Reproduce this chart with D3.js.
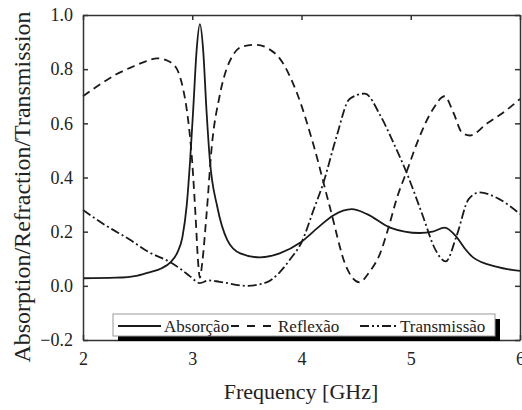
<!DOCTYPE html>
<html>
<head>
<meta charset="utf-8">
<script src="https://cdn.jsdelivr.net/npm/d3@7"></script>
<style>
  body { margin: 0; background: #fff; }
</style>
</head>
<body>
<script>
const absFreq = [2.0, 2.3, 2.5, 2.61, 2.72, 2.8, 2.86, 2.91, 2.95, 2.98, 3.01, 3.04, 3.07, 3.10, 3.13, 3.16, 3.23, 3.32, 3.44, 3.62, 3.80, 3.99, 4.15, 4.29, 4.46, 4.6, 4.81, 5.08, 5.2, 5.31, 5.42, 5.5, 5.57, 5.79, 6.0];
const absValues = [0.028, 0.03, 0.038, 0.05, 0.065, 0.087, 0.12, 0.18, 0.30, 0.46, 0.66, 0.87, 0.966, 0.87, 0.65, 0.47, 0.29, 0.17, 0.12, 0.105, 0.12, 0.16, 0.215, 0.26, 0.283, 0.265, 0.215, 0.195, 0.2, 0.215, 0.18, 0.135, 0.105, 0.07, 0.055];

const refFreq = [2.0, 2.16, 2.3, 2.46, 2.58, 2.68, 2.78, 2.86, 2.92, 2.95, 3.0, 3.03, 3.055, 3.07, 3.09, 3.13, 3.18, 3.25, 3.37, 3.47, 3.59, 3.7, 3.80, 3.96, 4.11, 4.26, 4.41, 4.53, 4.62, 4.72, 4.8, 4.87, 4.97, 5.06, 5.2, 5.31, 5.39, 5.47, 5.54, 5.7, 5.88, 6.0];
const refValues = [0.70, 0.745, 0.78, 0.81, 0.83, 0.84, 0.83, 0.80, 0.72, 0.65, 0.455, 0.26, 0.08, 0.03, 0.08, 0.26, 0.52, 0.70, 0.85, 0.885, 0.89, 0.875, 0.84, 0.71, 0.52, 0.29, 0.07, 0.013, 0.05, 0.12, 0.22, 0.32, 0.43, 0.53, 0.65, 0.70, 0.64, 0.565, 0.555, 0.60, 0.65, 0.69];

const traFreq = [2.0, 2.2, 2.43, 2.6, 2.8, 2.9, 2.98, 3.07, 3.15, 3.25, 3.5, 3.68, 3.80, 3.9, 4.0, 4.11, 4.2, 4.32, 4.44, 4.58, 4.72, 4.84, 4.97, 5.1, 5.23, 5.32, 5.42, 5.53, 5.63, 5.81, 6.0];
const traValues = [0.28, 0.225, 0.17, 0.125, 0.087, 0.06, 0.035, 0.01, 0.02, 0.015, 0.0, 0.013, 0.05, 0.10, 0.16, 0.28, 0.38, 0.55, 0.69, 0.71, 0.63, 0.53, 0.41, 0.27, 0.13, 0.09, 0.185, 0.32, 0.345, 0.32, 0.265];

const xTicks = [2, 3, 4, 5, 6];
const yTicks = [-0.2, 0.0, 0.2, 0.4, 0.6, 0.8, 1.0];
const legendNames = ["Absorção", "Reflexão", "Transmissão"];

const width = 522, height = 410;
const margin = {left: 83, right: 2, top: 15, bottom: 70};
const serif = "'Liberation Serif', 'Times New Roman', Times, serif";

const svg = d3.select("body")
    .append("svg")
    .attr("width", width)
    .attr("height", height)
    .attr("font-family", serif);

const x = d3.scaleLinear().domain([2, 6]).range([margin.left, width - margin.right]);
const y = d3.scaleLinear().domain([-0.2, 1.0]).range([height - margin.bottom, margin.top]);

const series = [
    {freq: absFreq, values: absValues, dash: null},
    {freq: refFreq, values: refValues, dash: "8,5"},
    {freq: traFreq, values: traValues, dash: "9,3,2,3"}
];

const line = d3.line()
    .x(d => x(d[0]))
    .y(d => y(d[1]))
    .curve(d3.curveMonotoneX);

series.forEach(s => {
    svg.append("path")
        .datum(s.freq.map((f, i) => [f, s.values[i]]))
        .attr("fill", "none")
        .attr("stroke", "#1a1a1a")
        .attr("stroke-width", 1.8)
        .attr("stroke-dasharray", s.dash)
        .attr("d", line);
});

// axes, ticks pointing inward on all four sides
const fmt = d3.format(".1f");
const axes = [
    svg.append("g")
        .attr("transform", `translate(0,${y(-0.2)})`)
        .call(d3.axisBottom(x).tickValues(xTicks).tickSizeInner(-5).tickSizeOuter(0).tickPadding(12).tickFormat(d3.format("d"))),
    svg.append("g")
        .attr("transform", `translate(0,${y(1.0)})`)
        .call(d3.axisTop(x).tickValues(xTicks).tickSizeInner(-5).tickSizeOuter(0).tickFormat("")),
    svg.append("g")
        .attr("transform", `translate(${x(2)},0)`)
        .call(d3.axisLeft(y).tickValues(yTicks).tickSizeInner(-5).tickSizeOuter(0).tickPadding(10).tickFormat(d => d === 0 ? "0.0" : fmt(d))),
    svg.append("g")
        .attr("transform", `translate(${x(6)},0)`)
        .call(d3.axisRight(y).tickValues(yTicks).tickSizeInner(-5).tickSizeOuter(0).tickFormat(""))
];
axes.forEach(g => g.attr("font-family", serif).attr("font-size", 18));

svg.selectAll(".domain, .tick line")
    .attr("stroke", "#333")
    .attr("stroke-width", 1.5);
svg.selectAll(".tick text")
    .attr("fill", "#222");

// legend with black drop shadow
const lg = svg.append("g");
lg.append("rect")
    .attr("x", 118).attr("y", 319)
    .attr("width", 382).attr("height", 22)
    .attr("fill", "#000");
lg.append("rect")
    .attr("x", 113).attr("y", 314)
    .attr("width", 382).attr("height", 22)
    .attr("fill", "#fff")
    .attr("stroke", "#999")
    .attr("stroke-width", 1);

const legendItems = [
    {x1: 118, x2: 161, tx: 164, dash: null},
    {x1: 231, x2: 275, tx: 278, dash: "8,8"},
    {x1: 360, x2: 398, tx: 400, dash: "9,3,2,3,2,3"}
];
legendItems.forEach((it, i) => {
    lg.append("line")
        .attr("x1", it.x1).attr("x2", it.x2)
        .attr("y1", 326).attr("y2", 326)
        .attr("stroke", "#1a1a1a")
        .attr("stroke-width", 1.8)
        .attr("stroke-dasharray", it.dash);
    lg.append("text")
        .attr("x", it.tx).attr("y", 332)
        .attr("font-size", 17)
        .attr("fill", "#222")
        .text(legendNames[i]);
});

svg.append("text")
    .attr("x", 301).attr("y", 399)
    .attr("text-anchor", "middle")
    .attr("font-size", 22)
    .attr("fill", "#222")
    .text("Frequency [GHz]");

svg.append("text")
    .attr("transform", "translate(30,187) rotate(-90)")
    .attr("text-anchor", "middle")
    .attr("font-size", 24)
    .attr("fill", "#222")
    .text("Absorption/Refraction/Transmission");
</script>
</body>
</html>
